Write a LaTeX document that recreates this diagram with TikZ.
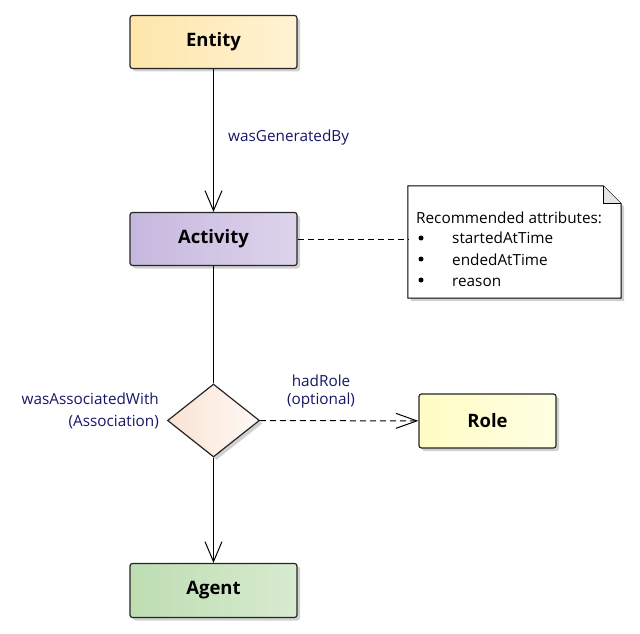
\documentclass[tikz,border=0pt]{standalone}
\usepackage{fontspec}
\setmainfont{Open Sans}
\usetikzlibrary{positioning}
\usetikzlibrary{shapes.geometric}
\usetikzlibrary{arrows.meta, shadows}

\definecolor{entityL}{RGB}{254,230,170}
\definecolor{entityR}{RGB}{255,243,212}
\definecolor{activityL}{RGB}{198,184,222}
\definecolor{activityR}{RGB}{222,211,236}
\definecolor{agentL}{RGB}{190,221,178}
\definecolor{agentR}{RGB}{216,235,208}
\definecolor{roleL}{RGB}{255,252,196}
\definecolor{roleR}{RGB}{255,255,226}
\definecolor{assocL}{RGB}{249,226,210}
\definecolor{assocR}{RGB}{255,249,246}
\definecolor{lblblue}{RGB}{22,22,105}

\tikzset{
  shadowed/.style={drop shadow={shadow xshift=3pt, shadow yshift=-3pt, fill=black!18, opacity=1}},
  umlbox/.style={rectangle, rounded corners=2.5pt, draw=black!85, line width=1.2pt,
    minimum width=167pt, minimum height=53pt, shadowed,
    font=\fontsize{18.5}{22}\selectfont\bfseries},
  lbl/.style={font=\fontsize{15.3}{18}\selectfont, text=lblblue, inner sep=0pt},
  notetxt/.style={font=\fontsize{15.3}{18}\selectfont, inner sep=0pt, anchor=base west},
  bullet/.style={circle, fill=black, inner sep=0pt, minimum size=5pt},
  link/.style={line width=1pt, -{Straight Barb[length=20pt, width=17pt]}},
  dashlink/.style={line width=1pt, dash pattern=on 6pt off 4pt},
}

\begin{document}
\begin{tikzpicture}[x=1pt, y=-1pt]
\useasboundingbox (0,0) rectangle (640,634);

\node[umlbox, left color=entityL, right color=entityR] (entity) at (213.5,42) {Entity};
\node[umlbox, left color=activityL, right color=activityR] (activity) at (213.5,239) {Activity};
\node[umlbox, left color=agentL, right color=agentR, minimum height=54pt] (agent) at (213.5,590.5) {Agent};
\node[umlbox, left color=roleL, right color=roleR, minimum width=137pt, minimum height=54pt] (role) at (487.5,421) {Role};
\node[diamond, draw=black!85, line width=1.2pt, minimum width=92pt, minimum height=73pt, inner sep=0pt,
  left color=assocL, right color=assocR, shadowed] (assoc) at (213.5,420.5) {};

\node[minimum width=213pt, minimum height=112pt, inner sep=0pt] (note) at (514.5,242) {};
\draw[fill=white, line width=1pt, shadowed] (note.north west) -- ([xshift=-18pt]note.north east)
  -- ([yshift=-18pt]note.north east) -- (note.south east) -- (note.south west) -- cycle;
\draw[fill=black!10, line width=1pt] ([xshift=-18pt]note.north east) -- ([xshift=-18pt,yshift=-18pt]note.north east)
  -- ([yshift=-18pt]note.north east);

\node[notetxt] (rec) at (416,223) {Recommended attributes:};
\node[bullet] (b1) at (421,238) {};
\node[notetxt] (a1) at (452,243) {startedAtTime};
\node[bullet] (b2) at (421,259) {};
\node[notetxt] (a2) at (452,265) {endedAtTime};
\node[bullet] (b3) at (421,280) {};
\node[notetxt] (a3) at (452,286) {reason};

\draw[link] (entity) -- (activity);
\draw[line width=1pt] (activity) -- (assoc);
\draw[link] (assoc) -- (agent);
\draw[dashlink] (activity.east) -- (activity.east -| note.west);
\draw[dashlink, -{Straight Barb[length=21pt, width=15pt]}] (assoc) -- (role);

\node[lbl, anchor=base west] (gen) at (228,141) {wasGeneratedBy};
\node[lbl, anchor=base] (had) at (321,386) {hadRole};
\node[lbl, anchor=base] (opt) at (321,404) {(optional)};
\node[lbl, anchor=base east] (was) at (159,404) {wasAssociatedWith};
\node[lbl, anchor=base east] (asc) at (159,426) {(Association)};

\end{tikzpicture}
\end{document}
